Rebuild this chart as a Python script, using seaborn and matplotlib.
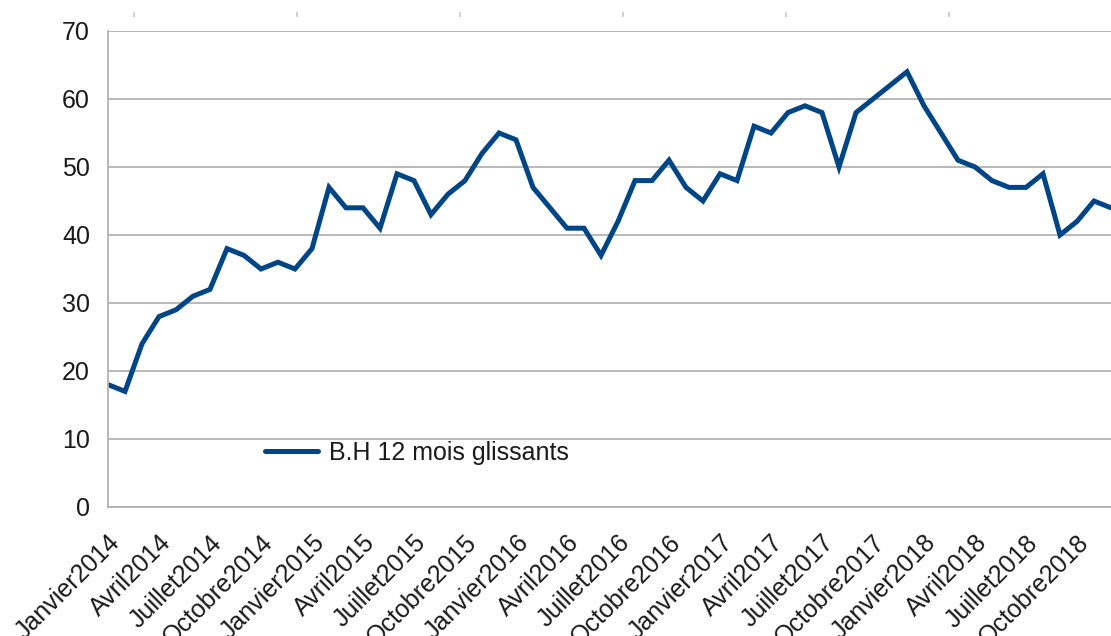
import matplotlib
matplotlib.use("Agg")
import matplotlib.pyplot as plt
import numpy as np
import pandas as pd
import seaborn as sns

# Monthly series, Janvier 2014 -> Décembre 2018
mois = ["Janvier", "Février", "Mars", "Avril", "Mai", "Juin", "Juillet",
        "Août", "Septembre", "Octobre", "Novembre", "Décembre"]
annees = [2014, 2015, 2016, 2017, 2018]
bh_12_mois = [18, 17, 24, 28, 29, 31, 32, 38, 37, 35, 36, 35,
              38, 47, 44, 44, 41, 49, 48, 43, 46, 48, 52, 55,
              54, 47, 44, 41, 41, 37, 42, 48, 48, 51, 47, 45,
              49, 48, 56, 55, 58, 59, 58, 50, 58, 60, 62, 64,
              59, 55, 51, 50, 48, 47, 47, 49, 40, 42, 45, 44]
serie = "B.H 12 mois glissants"
y_ticks = [0, 10, 20, 30, 40, 50, 60, 70]

periodes = [f"{m}{a}" for a in annees for m in mois]
df = pd.DataFrame({"idx": np.arange(len(bh_12_mois)),
                   "periode": periodes,
                   "valeur": bh_12_mois})

sns.set_style("white")
plt.rcParams["font.family"] = ["Liberation Sans", "DejaVu Sans"]

GRID = "#b3b3b3"
TEXT = "#1a1a1a"
LINE = "#004586"

W, H = 1111, 636
fig = plt.figure(figsize=(W / 100, H / 100), dpi=100)
ax = fig.add_axes([108 / W, 1 - 507 / H, 1 - 108 / W, 476 / H])

sns.lineplot(data=df, x="idx", y="valeur", ax=ax, color=LINE,
             linewidth=3.6, label=serie)
for ln in ax.get_lines():
    ln.set_solid_joinstyle("miter")

ax.set_xlim(0, 58.48)
ax.set_ylim(0, 70)
ax.set_xlabel("")
ax.set_ylabel("")

# Y axis
ax.set_yticks(y_ticks)
ax.set_yticklabels([str(v) for v in y_ticks])
ax.yaxis.grid(True, color=GRID, linewidth=1.3)
ax.xaxis.grid(False)
ax.set_axisbelow(True)

# X axis: a tick every month, a label every quarter
ax.set_xticks(df["idx"])
ax.set_xticklabels([p if i % 3 == 0 else "" for i, p in enumerate(periodes)],
                   rotation=45, ha="right", va="top", rotation_mode="anchor")

ax.tick_params(axis="both", direction="out", color=GRID, width=1.3,
               labelcolor=TEXT, labelsize=18)
ax.tick_params(axis="x", length=8, pad=9)
ax.tick_params(axis="y", length=9, pad=4)

for side in ("top", "right"):
    ax.spines[side].set_visible(False)
for side in ("left", "bottom"):
    ax.spines[side].set_color(GRID)
    ax.spines[side].set_linewidth(1.3)

# Secondary scale marks above the plot area
sec = ax.secondary_xaxis(1.0294)
sec.set_xticks([1.52 + 9.59 * k for k in range(6)])
sec.set_xticklabels([])
sec.tick_params(direction="out", length=3.6, width=1.2, color="#c8c8c8")
sec.spines["top"].set_visible(False)

leg = ax.legend(loc="center left", bbox_to_anchor=(0.157, 0.113),
                frameon=False, fontsize=18, handlelength=2.1,
                handletextpad=0.45, borderpad=0, borderaxespad=0)
for t in leg.get_texts():
    t.set_color(TEXT)

fig.savefig("out.png", dpi=100)
